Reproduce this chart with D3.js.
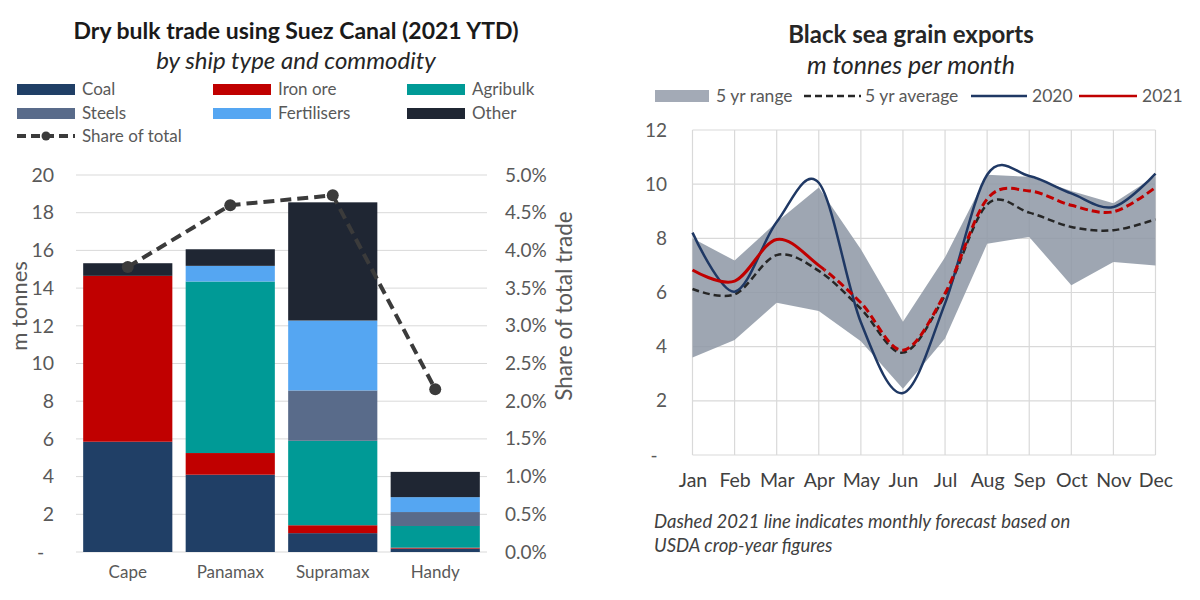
<!DOCTYPE html>
<html>
<head>
<meta charset="utf-8">
<script src="https://cdn.jsdelivr.net/npm/d3@7"></script>
<style>
  body { margin: 0; background: #fff; }
  svg { font-family: Lato, "Open Sans", sans-serif; }
</style>
</head>
<body>
<div id="viz"></div>
<script>
// ---------- Left chart: Suez Canal dry bulk (m tonnes) ----------
const ships = ["Cape", "Panamax", "Supramax", "Handy"];
const commodities = ["Coal", "Iron ore", "Agribulk", "Steels", "Fertilisers", "Other"];
const coal        = [5.85, 4.1, 1.0, 0.18];
const ironOre     = [8.8, 1.15, 0.42, 0.05];
const agribulk    = [0, 9.1, 4.48, 1.15];
const steels      = [0, 0, 2.67, 0.74];
const fertilisers = [0, 0.83, 3.71, 0.79];
const other       = [0.67, 0.88, 6.27, 1.34];
const shareOfTotal = [0.0378, 0.046, 0.0473, 0.0216];
const tonneTicks = [0, 2, 4, 6, 8, 10, 12, 14, 16, 18, 20];
const shareTicks = [0, 0.005, 0.01, 0.015, 0.02, 0.025, 0.03, 0.035, 0.04, 0.045, 0.05];

// ---------- Right chart: Black sea grain exports ----------
const months = ["Jan", "Feb", "Mar", "Apr", "May", "Jun", "Jul", "Aug", "Sep", "Oct", "Nov", "Dec"];
const rangeLow  = [3.6, 4.25, 5.62, 5.32, 4.2, 2.45, 4.3, 7.8, 8.05, 6.27, 7.13, 7.0];
const rangeHigh = [8.0, 7.18, 8.6, 9.88, 7.6, 4.92, 7.3, 10.35, 10.27, 9.75, 9.3, 10.3];
const avg5yr    = [6.13, 5.93, 7.38, 6.8, 5.4, 3.78, 5.9, 9.25, 8.95, 8.42, 8.3, 8.7];
const exports2020 = [8.21, 6.03, 8.6, 10.05, 4.9, 2.29, 5.6, 10.35, 10.3, 9.66, 9.16, 10.39];
const exports2021 = [6.83, 6.42, 7.96, 7.0, 5.62, 3.87, 5.97, 9.45, 9.75, 9.22, 8.98, 9.88];
const lastActual2021 = "Apr";
const grainTicks = [0, 2, 4, 6, 8, 10, 12];

const colors = {
  "Coal": "#203f66", "Iron ore": "#c00000", "Agribulk": "#009a96",
  "Steels": "#596b8a", "Fertilisers": "#55a6f2", "Other": "#1f2633"
};
const tickColor = "#595959";
const gridColor = "#d9d9d9";

const svg = d3.select("#viz").append("svg")
  .attr("width", 1200)
  .attr("height", 600);

// ================= LEFT CHART =================
const left = svg.append("g");

left.append("text")
  .attr("x", 296).attr("y", 39)
  .attr("text-anchor", "middle")
  .style("font-size", "23px").style("font-weight", "bold").style("fill", "#1a1a1a")
  .text("Dry bulk trade using Suez Canal (2021 YTD)");

left.append("text")
  .attr("x", 296).attr("y", 69)
  .attr("text-anchor", "middle")
  .style("font-size", "24px").style("font-style", "italic").style("fill", "#262626")
  .text("by ship type and commodity");

// legend
const legendPos = [[17, 89], [213, 89], [407, 89], [17, 113], [213, 113], [407, 113]];
commodities.forEach((c, i) => {
  const [lx, ly] = legendPos[i];
  left.append("rect")
    .attr("x", lx).attr("y", ly - 5).attr("width", 58).attr("height", 11)
    .style("fill", colors[c]);
  left.append("text")
    .attr("x", lx + 65).attr("y", ly).attr("dy", "0.35em")
    .style("font-size", "17px").style("fill", tickColor)
    .text(c);
});
left.append("line")
  .attr("x1", 17).attr("x2", 75).attr("y1", 136).attr("y2", 136)
  .style("stroke", "#3b3b3b").style("stroke-width", 4).style("stroke-dasharray", "9,5");
left.append("circle")
  .attr("cx", 46).attr("cy", 136).attr("r", 4.5).style("fill", "#3b3b3b");
left.append("text")
  .attr("x", 82).attr("y", 136).attr("dy", "0.35em")
  .style("font-size", "17px").style("fill", tickColor)
  .text("Share of total");

const x = d3.scaleBand()
  .domain(ships)
  .range([76, 487])
  .paddingInner(0.13)
  .paddingOuter(0.07);

const y = d3.scaleLinear().domain([0, 20]).range([552, 175]);
const yShare = d3.scaleLinear().domain([0, 0.05]).range([552, 175]);

// gridlines
left.append("g")
  .selectAll("line")
  .data(tonneTicks)
  .join("line")
  .attr("x1", 76).attr("x2", 487)
  .attr("y1", d => y(d)).attr("y2", d => y(d))
  .style("stroke", gridColor).style("stroke-width", 1);

// stacked bars
const rows = ships.map((s, i) => ({
  ship: s,
  "Coal": coal[i], "Iron ore": ironOre[i], "Agribulk": agribulk[i],
  "Steels": steels[i], "Fertilisers": fertilisers[i], "Other": other[i]
}));
const stacked = d3.stack().keys(commodities)(rows);

left.append("g")
  .selectAll("g")
  .data(stacked)
  .join("g")
  .style("fill", d => colors[d.key])
  .selectAll("rect")
  .data(d => d)
  .join("rect")
  .attr("x", d => x(d.data.ship))
  .attr("width", x.bandwidth())
  .attr("y", d => y(d[1]))
  .attr("height", d => y(d[0]) - y(d[1]));

// left axis
const yAxisL = left.append("g")
  .attr("transform", "translate(54,0)")
  .call(d3.axisLeft(y).tickValues(tonneTicks).tickSize(0).tickPadding(0)
    .tickFormat(d => d === 0 ? "-" : d));
yAxisL.select(".domain").remove();
yAxisL.selectAll("text")
  .style("font-size", "19.5px").style("fill", tickColor).style("font-family", "Lato, sans-serif")
  .attr("dx", d => d === 0 ? "-0.5em" : 0);

// right axis
const yAxisR = left.append("g")
  .attr("transform", "translate(505,0)")
  .call(d3.axisRight(yShare).tickValues(shareTicks).tickSize(0).tickPadding(0)
    .tickFormat(d3.format(".1%")));
yAxisR.select(".domain").remove();
yAxisR.selectAll("text")
  .style("font-size", "19px").style("fill", tickColor).style("font-family", "Lato, sans-serif");

// x axis labels
const xAxis = left.append("g")
  .attr("transform", "translate(0,566)")
  .call(d3.axisBottom(x).tickSize(0).tickPadding(0));
xAxis.select(".domain").remove();
xAxis.selectAll("text")
  .style("font-size", "17px").style("fill", tickColor).style("font-family", "Lato, sans-serif");

// axis titles
left.append("text")
  .attr("transform", "translate(27,306) rotate(-90)")
  .attr("text-anchor", "middle")
  .style("font-size", "22px").style("fill", tickColor)
  .text("m tonnes");
left.append("text")
  .attr("transform", "translate(572,306) rotate(-90)")
  .attr("text-anchor", "middle")
  .style("font-size", "22.5px").style("fill", tickColor)
  .text("Share of total trade");

// share line
const shareLine = d3.line()
  .x((d, i) => x(ships[i]) + x.bandwidth() / 2)
  .y(d => yShare(d));
left.append("path")
  .datum(shareOfTotal)
  .attr("d", shareLine)
  .style("fill", "none").style("stroke", "#3b3b3b")
  .style("stroke-width", 4).style("stroke-dasharray", "11,6");
left.append("g")
  .selectAll("circle")
  .data(shareOfTotal)
  .join("circle")
  .attr("cx", (d, i) => x(ships[i]) + x.bandwidth() / 2)
  .attr("cy", d => yShare(d))
  .attr("r", 6)
  .style("fill", "#3b3b3b");

// ================= RIGHT CHART =================
const right = svg.append("g");

right.append("text")
  .attr("x", 911).attr("y", 43)
  .attr("text-anchor", "middle")
  .style("font-size", "24px").style("font-weight", "bold").style("fill", "#262626")
  .text("Black sea grain exports");
right.append("text")
  .attr("x", 911).attr("y", 74)
  .attr("text-anchor", "middle")
  .style("font-size", "25px").style("font-style", "italic").style("fill", "#262626")
  .text("m tonnes per month");

// legend
right.append("rect")
  .attr("x", 655).attr("y", 90).attr("width", 54).attr("height", 12)
  .style("fill", "#a3aab6");
right.append("text")
  .attr("x", 716).attr("y", 96).attr("dy", "0.35em")
  .style("font-size", "17.5px").style("fill", tickColor).text("5 yr range");
right.append("line")
  .attr("x1", 804).attr("x2", 861).attr("y1", 96).attr("y2", 96)
  .style("stroke", "#262626").style("stroke-width", 2.5).style("stroke-dasharray", "7,4");
right.append("text")
  .attr("x", 865).attr("y", 96).attr("dy", "0.35em")
  .style("font-size", "17.5px").style("fill", tickColor).text("5 yr average");
right.append("line")
  .attr("x1", 971).attr("x2", 1027).attr("y1", 96).attr("y2", 96)
  .style("stroke", "#1f3864").style("stroke-width", 2.5);
right.append("text")
  .attr("x", 1032).attr("y", 96).attr("dy", "0.35em")
  .style("font-size", "17.5px").style("fill", tickColor).text("2020");
right.append("line")
  .attr("x1", 1079).attr("x2", 1137).attr("y1", 96).attr("y2", 96)
  .style("stroke", "#c00000").style("stroke-width", 2.5);
right.append("text")
  .attr("x", 1142).attr("y", 96).attr("dy", "0.35em")
  .style("font-size", "17.5px").style("fill", tickColor).text("2021");

const xm = d3.scalePoint().domain(months).range([692.5, 1155.5]);
const yg = d3.scaleLinear().domain([0, 12]).range([455, 130]);

// grid
right.append("g")
  .selectAll("line")
  .data(grainTicks)
  .join("line")
  .attr("x1", xm("Jan")).attr("x2", xm("Dec"))
  .attr("y1", d => yg(d)).attr("y2", d => yg(d))
  .style("stroke", gridColor).style("stroke-width", 1.2);
right.append("g")
  .selectAll("line")
  .data(months)
  .join("line")
  .attr("x1", d => xm(d)).attr("x2", d => xm(d))
  .attr("y1", yg(0)).attr("y2", yg(12))
  .style("stroke", gridColor).style("stroke-width", 1.2);

// range area
const area = d3.area()
  .x((d, i) => xm(months[i]))
  .y0((d, i) => yg(rangeLow[i]))
  .y1(d => yg(d));
right.append("path")
  .datum(rangeHigh)
  .attr("d", area)
  .style("fill", "#8d96a4").style("opacity", 0.85);

const smooth = d3.line()
  .x((d, i) => xm(months[i]))
  .y(d => yg(d))
  .curve(d3.curveCatmullRom.alpha(0));

right.append("path")
  .datum(avg5yr)
  .attr("d", smooth)
  .style("fill", "none").style("stroke", "#262626")
  .style("stroke-width", 2.5).style("stroke-dasharray", "7,4");

right.append("path")
  .datum(exports2020)
  .attr("d", smooth)
  .style("fill", "none").style("stroke", "#1f3864").style("stroke-width", 2.5);

// 2021: solid up to last actual month, dashed forecast afterwards
const defs = svg.append("defs");
defs.append("clipPath").attr("id", "clip-actual")
  .append("rect")
  .attr("x", 600).attr("y", 100)
  .attr("width", xm(lastActual2021) + 6 - 600).attr("height", 400);
defs.append("clipPath").attr("id", "clip-forecast")
  .append("rect")
  .attr("x", xm(lastActual2021) + 6).attr("y", 100)
  .attr("width", 1200 - xm(lastActual2021)).attr("height", 400);

right.append("path")
  .datum(exports2021)
  .attr("d", smooth)
  .attr("clip-path", "url(#clip-actual)")
  .style("fill", "none").style("stroke", "#c00000").style("stroke-width", 3);
right.append("path")
  .datum(exports2021)
  .attr("d", smooth)
  .attr("clip-path", "url(#clip-forecast)")
  .style("fill", "none").style("stroke", "#c00000")
  .style("stroke-width", 3).style("stroke-dasharray", "8,4");

// axes
const ygAxis = right.append("g")
  .attr("transform", "translate(667,0)")
  .call(d3.axisLeft(yg).tickValues(grainTicks).tickSize(0).tickPadding(0)
    .tickFormat(d => d === 0 ? "-" : d));
ygAxis.select(".domain").remove();
ygAxis.selectAll("text")
  .style("font-size", "19px").style("fill", tickColor).style("font-family", "Lato, sans-serif")
  .attr("dx", d => d === 0 ? "-0.5em" : 0);

const xmAxis = right.append("g")
  .attr("transform", "translate(0,473)")
  .call(d3.axisBottom(xm).tickSize(0).tickPadding(0));
xmAxis.select(".domain").remove();
xmAxis.selectAll("text")
  .style("font-size", "19.5px").style("fill", "#404040").style("font-family", "Lato, sans-serif");

// footnote
right.append("text")
  .attr("x", 654).attr("y", 528)
  .style("font-size", "18.5px").style("font-style", "italic").style("fill", "#404040")
  .text("Dashed 2021 line indicates monthly forecast based on");
right.append("text")
  .attr("x", 654).attr("y", 552)
  .style("font-size", "18.5px").style("font-style", "italic").style("fill", "#404040")
  .text("USDA crop-year figures");
</script>
</body>
</html>
